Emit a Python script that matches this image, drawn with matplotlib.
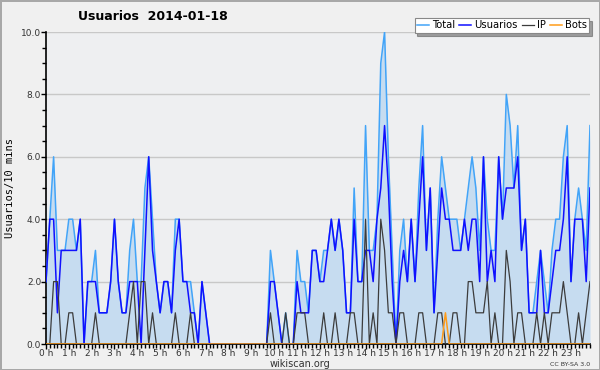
import numpy as np
import matplotlib
matplotlib.use("Agg")
import matplotlib.pyplot as plt
from matplotlib.ticker import MultipleLocator

# 10-minute slots, 2014-01-18 (144 values)
usuarios = [2, 4, 4, 1, 3, 3, 3, 3, 3, 4,
            0, 2, 2, 2, 1, 1, 1, 2, 4, 2,
            1, 1, 2, 2, 2, 0, 3, 6, 3, 2,
            1, 2, 2, 1, 3, 4, 2, 2, 1, 1,
            0, 2, 1, 0, 0, 0, 0, 0, 0, 0,
            0, 0, 0, 0, 0, 0, 0, 0, 0, 2,
            2, 1, 0, 0, 0, 0, 2, 1, 1, 1,
            3, 3, 2, 2, 3, 4, 3, 4, 3, 1,
            1, 4, 2, 2, 3, 3, 2, 4, 5, 7,
            5, 2, 0, 2, 3, 2, 4, 2, 4, 6,
            3, 5, 1, 3, 5, 4, 4, 3, 3, 3,
            4, 3, 4, 4, 2, 6, 2, 3, 2, 6,
            4, 5, 5, 5, 6, 3, 4, 1, 1, 1,
            3, 1, 1, 2, 3, 3, 4, 6, 2, 4,
            4, 4, 2, 5]
ip = [0, 0, 2, 2, 0, 0, 1, 1, 0, 0,
      0, 0, 0, 1, 0, 0, 0, 0, 0, 0,
      0, 0, 1, 2, 0, 2, 2, 0, 1, 0,
      0, 0, 0, 0, 1, 0, 0, 0, 1, 0,
      0, 0, 0, 0, 0, 0, 0, 0, 0, 0,
      0, 0, 0, 0, 0, 0, 0, 0, 0, 1,
      0, 0, 0, 1, 0, 0, 1, 1, 1, 0,
      0, 0, 0, 1, 0, 0, 1, 0, 0, 0,
      1, 1, 0, 0, 4, 0, 1, 0, 4, 3,
      1, 1, 0, 1, 1, 0, 0, 0, 1, 1,
      0, 0, 0, 1, 1, 0, 0, 1, 1, 0,
      0, 2, 2, 1, 1, 1, 2, 0, 1, 0,
      0, 3, 2, 0, 1, 1, 0, 0, 0, 1,
      0, 1, 0, 1, 1, 1, 2, 1, 0, 0,
      1, 0, 1, 2]
bots = [0] * 105 + [1] + [0] * 38
total = [2, 4, 6, 3, 3, 3, 4, 4, 3, 4,
         0, 2, 2, 3, 1, 1, 1, 2, 4, 2,
         1, 1, 3, 4, 2, 2, 5, 6, 4, 2,
         1, 2, 2, 1, 4, 4, 2, 2, 2, 1,
         0, 2, 1, 0, 0, 0, 0, 0, 0, 0,
         0, 0, 0, 0, 0, 0, 0, 0, 0, 3,
         2, 1, 0, 1, 0, 0, 3, 2, 2, 1,
         3, 3, 2, 3, 3, 4, 3, 4, 3, 1,
         1, 5, 2, 2, 7, 3, 3, 4, 9, 10,
         6, 3, 0, 3, 4, 2, 4, 2, 5, 7,
         3, 5, 1, 4, 6, 5, 4, 4, 4, 3,
         4, 5, 6, 5, 3, 6, 4, 3, 3, 6,
         4, 8, 7, 5, 7, 3, 4, 1, 1, 2,
         3, 2, 1, 3, 4, 4, 6, 7, 2, 4,
         5, 4, 3, 7]
hour_labels = [f"{h} h" for h in range(24)]

t = np.arange(len(total)) / 6.0

fig = plt.figure(figsize=(6, 3.7), dpi=100)
fig.patch.set_facecolor("#f0f0f0")
fig.patch.set_edgecolor("#a8a8a8")
fig.patch.set_linewidth(2)

ax = fig.add_axes([46 / 600, 1 - 344 / 370, 544 / 600, 312 / 370])
ax.set_facecolor("#eeeff1")

ax.fill_between(t, total, color="#c6dcf0", lw=0, zorder=1)
ax.plot(t, total, color="#42a4f8", lw=1.1, label="Total", zorder=3)
ax.plot(t, usuarios, color="#1010ff", lw=1.1, label="Usuarios", zorder=4)
ax.plot(t, ip, color="#3c3c3c", lw=0.9, label="IP", zorder=5)
ax.plot(t, bots, color="#ff9c1a", lw=1.1, label="Bots", zorder=6)

ax.set_xlim(0, t[-1])
ax.set_ylim(0, 10)
ax.set_xticks(range(24))
ax.set_xticklabels(hour_labels)
ax.xaxis.set_minor_locator(MultipleLocator(1 / 6))
ax.set_yticks(np.arange(0, 11, 2))
ax.set_yticklabels([f"{v:.1f}" for v in np.arange(0, 11, 2)])
ax.yaxis.set_minor_locator(MultipleLocator(0.5))
ax.tick_params(axis="both", which="major", labelsize=6.5, length=3.5, width=1,
               colors="black", labelcolor="#333333", pad=0)
ax.tick_params(axis="both", which="minor", length=3, width=1)
for y in [2, 4, 6, 8, 10]:
    ax.axhline(y, color="#c8c8c8", lw=1, zorder=0)

for s in ["top", "right"]:
    ax.spines[s].set_visible(False)
ax.spines["left"].set_linewidth(1.2)
ax.spines["bottom"].set_linewidth(1.2)

fig.text(78 / 600, 1 - 17 / 370, "Usuarios  2014-01-18", fontsize=9,
         fontweight="bold", va="center", ha="left")
fig.text(10 / 600, 1 - 188 / 370, "Usuarios/10 mins", rotation=90,
         fontsize=7.5, family="DejaVu Sans Mono", va="center", ha="center")
fig.text(300 / 600, 1 - 364 / 370, "wikiscan.org", fontsize=7,
         color="#333333", va="center", ha="center")
fig.text(590 / 600, 1 - 364 / 370, "CC BY-SA 3.0", fontsize=4.5,
         color="#333333", va="center", ha="right")

leg = fig.legend(loc="upper right", bbox_to_anchor=(589 / 600, 1 - 18 / 370),
                 ncol=4, fontsize=7.2, frameon=True, shadow=True, fancybox=False,
                 handlelength=1.2, handletextpad=0.3, columnspacing=0.4,
                 borderpad=0.25, borderaxespad=0)
leg.get_frame().set_edgecolor("#888888")
leg.get_frame().set_linewidth(0.8)

fig.savefig("out.png", dpi=100, facecolor=fig.get_facecolor(),
            edgecolor=fig.get_edgecolor())
